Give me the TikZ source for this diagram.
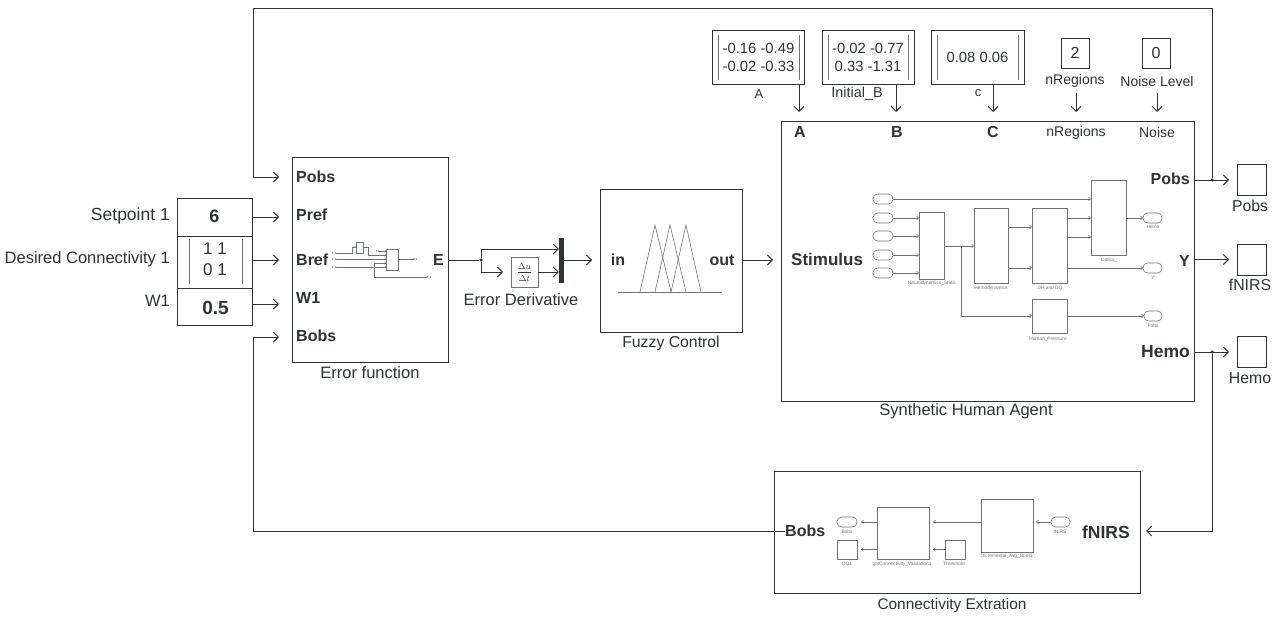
\documentclass[tikz,border=0pt]{standalone}
\usepackage{fontspec}
\setmainfont{Liberation Sans}
\usetikzlibrary{arrows.meta}
\definecolor{ink}{HTML}{2E3335}
\definecolor{soft}{HTML}{6E7375}
\newcommand{\BX}[6][]{%
  \pgfmathsetmacro{\cxx}{(#3+#5)/2}\pgfmathsetmacro{\cyy}{(#4+#6)/2}%
  \pgfmathsetmacro{\wdd}{#5-#3}\pgfmathsetmacro{\htt}{#6-#4}%
  \node[boxn,minimum width=\wdd pt,minimum height=\htt pt,#1] (#2) at (\cxx,\cyy) {};}
\tikzset{
  boxn/.style={draw=ink,line width=1pt,inner sep=0pt,outer sep=0pt,rectangle},
  thin box/.style={draw=soft,line width=.6pt},
  pill/.style={thin box,rounded corners=4.5pt},
  tinypill/.style={draw=soft,line width=.35pt,rounded corners=1pt},
  arr/.style={draw=ink,line width=1pt,-{Straight Barb[length=5pt,width=10pt,line width=.9pt]}},
  line/.style={draw=ink,line width=1pt},
  sarr/.style={draw=soft,line width=.55pt,-{Straight Barb[length=2pt,width=3.5pt,line width=.5pt]}},
  sline/.style={draw=soft,line width=.55pt},
  tarr/.style={draw=soft,line width=.35pt,-{Straight Barb[length=1.2pt,width=2pt,line width=.3pt]}},
  lab/.style={font=\fontsize{16.5}{18}\selectfont,text=ink,inner sep=0pt},
  small lab/.style={font=\fontsize{14}{16}\selectfont,text=ink,inner sep=0pt},
  port/.style={font=\fontsize{16}{18}\bfseries\selectfont,text=ink,inner sep=0pt},
  val/.style={font=\fontsize{14.8}{18}\selectfont,text=ink,inner sep=0pt,align=center},
  mini/.style={font=\fontsize{4.8}{5}\selectfont,text=soft,inner sep=0pt},
  bar/.style={draw=soft,line width=.8pt},
  dot/.style={circle,fill=ink,inner sep=0pt,minimum size=3.5pt},
  tri/.style={draw=soft,line width=.6pt},
}
\begin{document}
\begin{tikzpicture}[x=1pt,y=-1pt]
\useasboundingbox (0,0) rectangle (1278,621);
\fill[white] (0,0) rectangle (1278,621);

% input stack
\BX{sp}{177}{198}{252}{236}
\BX{dc}{177}{236}{252}{288}
\BX{wb}{177}{288}{252}{325}
\node[port,font=\fontsize{18}{20}\bfseries\selectfont] (spv) at (214.5,216) {6};
\node[port,font=\fontsize{19}{20}\bfseries\selectfont] (wv) at (215.5,307.5) {0.5};
\node[val,font=\fontsize{17}{21}\selectfont] (dcv) at (215,259.5) {1 1\\0 1};
\draw[bar] (189,239) -- (189,284) (242,239) -- (242,284);
\node[lab,anchor=east,font=\fontsize{17.5}{19}\selectfont] (l1) at (170,216) {Setpoint 1};
\node[lab,anchor=east] (l2) at (170,259) {Desired Connectivity 1};
\node[lab,anchor=east] (l3) at (170,301) {W1};

% error function
\BX{err}{292}{157}{448}{362}
\node[lab] (errl) at (370,373) {Error function};
\node[port,anchor=west] (pobsi) at (296,177) {Pobs};
\node[port,anchor=west] (prefi) at (296,215) {Pref};
\node[port,anchor=west] (brefi) at (296,260) {Bref};
\node[port,anchor=west] (w1i) at (296,298) {W1};
\node[port,anchor=west] (bobsi) at (296,336) {Bobs};
\node[port,anchor=east] (eo) at (444,259.5) {E};

% inside error function
\BX[tinypill]{e1}{332}{252}{336}{254}
\BX[tinypill]{e2}{332}{258}{336}{260}
\BX[tinypill]{e3}{332}{266}{336}{268}
\BX[thin box]{e4}{356}{242}{363}{253}
\BX[thin box]{e5}{386}{249}{398}{270}
\BX[tinypill]{e6}{376}{250}{379}{252}
\BX[tinypill]{e7}{414}{258}{417}{260}
\BX[tinypill]{e8}{427}{276}{431}{278}
\coordinate (e9) at (374,263);
\draw[tarr] (e1) -- (352,253) -- (352,247) -- (e4.west|-0,247);
\draw[tarr] (e4.east|-0,247) -- (368,247) -- (368,255) -- (e5.west|-0,255);
\draw[tarr] (e6) -- (e6-|e5.west);
\draw[tarr] (e2) -- (e2-|e5.west);
\draw[tarr] (e3) -- (e3-|e5.west);
\draw[tarr] (e9) -- (e9-|e5.west);
\draw[tarr] (e5.east|-e7) -- (e7);
\draw[sline,line width=.35pt] (e9) -- (e9|-e8) -- (e8);

% error derivative
\BX[thin box]{der}{511}{257}{538}{287}
\node[inner sep=0pt,font=\fontsize{9.5}{10}\selectfont,text=ink] (derv) at (524.5,272) {$\displaystyle\frac{\Delta u}{\Delta t}$};
\node[fill=ink,inner sep=0pt,minimum width=5pt,minimum height=45pt] (mux) at (561.5,260.5) {};
\node[dot] (j1) at (481,260) {};
\node[lab] (derl) at (521,299.5) {Error Derivative};
\draw[line] (err.east|-j1) -- (j1);
\draw[arr] (j1) -- (481,249) -- (mux.west|-0,249);
\draw[arr] (j1) -- (481,272) -- ([xshift=-8pt]der.west|-0,272);
\draw[arr] (der.east|-0,272) -- (mux.west|-0,272);

% fuzzy control
\BX{fuz}{600}{189}{742}{332}
\node[lab,font=\fontsize{15.8}{18}\selectfont] (fuzl) at (671,343) {Fuzzy Control};
\node[port] (fin) at (618,260) {in};
\node[port] (fout) at (722,260) {out};
\coordinate (f0) at (618,292); \coordinate (f1) at (722,292);
\draw[tri] (f0) -- (f1);
\draw[tri] (640,292) -- (655,225) -- (671,292);
\draw[tri] (655,292) -- (670,225) -- (686,292);
\draw[tri] (671,292) -- (686,225) -- (701,292);
\draw[arr] (mux.east|-fin) -- ([xshift=-8pt]fuz.west|-fin);

% synthetic human agent
\BX{sha}{781}{121}{1194}{401}
\node[lab] (shal) at (966,411) {Synthetic Human Agent};
\node[port] (pa) at (800,132) {A};
\node[port] (pb) at (897,132) {B};
\node[port] (pc) at (993,132) {C};
\node[small lab] (pn) at (1076,133) {nRegions};
\node[small lab] (pno) at (1157,132) {Noise};
\node[port,anchor=west,font=\fontsize{17}{18}\bfseries\selectfont] (stim) at (791,259) {Stimulus};
\node[port,anchor=east] (opobs) at (1190,179) {Pobs};
\node[port,anchor=east] (oy) at (1190,261) {Y};
\node[port,anchor=east,font=\fontsize{17.5}{18}\bfseries\selectfont] (ohemo) at (1190,352) {Hemo};
\draw[arr] ([xshift=0pt]fuz.east|-fin) -- ([xshift=-8pt]sha.west|-fin);

% parameter blocks
\BX{ma}{712}{30}{804}{84}
\BX{mb}{822}{30}{914}{84}
\BX{mc}{931}{30}{1024}{84}
\BX{mn}{1061}{38}{1089}{68}
\BX{mz}{1142}{38}{1170}{68}
\node[val] (mav) at (758.5,57) {-0.16 -0.49\\-0.02 -0.33};
\node[val] (mbv) at (868,57) {-0.02 -0.77\\0.33 -1.31};
\node[val] (mcv) at (977.5,57.5) {0.08 0.06};
\node[val,font=\fontsize{16}{18}\selectfont] (mnv) at (1075,53) {2};
\node[val,font=\fontsize{16}{18}\selectfont] (mzv) at (1156,53) {0};
\draw[bar] (718,35) -- (718,80) (799,35) -- (799,80);
\draw[bar] (828,35) -- (828,80) (908,35) -- (908,80);
\draw[bar] (937,35) -- (937,80) (1018,35) -- (1018,80);
\node[font=\fontsize{13}{14}\selectfont,text=ink,inner sep=0pt] (mal) at (759,94) {A};
\node[small lab,font=\fontsize{14.4}{15}\selectfont] (mbl) at (857,93.5) {Initial\_B};
\node[font=\fontsize{13}{14}\selectfont,text=ink,inner sep=0pt] (mcl) at (978,93) {c};
\node[small lab] (mnl) at (1075,81) {nRegions};
\node[small lab] (mzl) at (1157,81) {Noise Level};
\coordinate (a0) at (799,84); \coordinate (a1) at (799,112);
\coordinate (b0) at (896,84); \coordinate (b1) at (896,112);
\coordinate (c0) at (993,84); \coordinate (c1) at (993,112);
\coordinate (n0) at (1076,93); \coordinate (n1) at (1076,112);
\coordinate (z0) at (1157,93); \coordinate (z1) at (1157,112);
\draw[arr] (a0) -- (a1);
\draw[arr] (b0) -- (b1);
\draw[arr] (c0) -- (c1);
\draw[arr] (n0) -- (n1);
\draw[arr] (z0) -- (z1);

% inside human agent
\BX[pill]{s1}{873}{194}{893}{204}
\BX[pill]{s2}{873}{213}{893}{223}
\BX[pill]{s3}{873}{231}{893}{241}
\BX[pill]{s4}{873}{250}{893}{260}
\BX[pill]{s5}{873}{268}{893}{278}
\BX[thin box]{neu}{919}{212}{944}{279}
\BX[thin box]{hem}{974}{208}{1008}{283}
\BX[thin box]{dh}{1032}{208}{1067}{283}
\BX[thin box]{opt}{1091}{180}{1126}{255}
\BX[thin box]{hup}{1032}{299}{1067}{333}
\BX[pill]{o1}{1143}{213}{1162}{223}
\BX[pill]{o2}{1143}{263}{1162}{273}
\BX[pill]{o3}{1144}{311}{1162}{321}
\node[mini] (neul) at (932,283.5) {Neurodynamics\_Static};
\node[mini] (heml) at (991,288) {Hemodynamics};
\node[mini] (dhl) at (1050,288) {DH and DQ};
\node[mini] (optl) at (1109,260) {Optics\_};
\node[mini] (hupl) at (1048,339) {Human\_Pressure};
\node[mini] (o1l) at (1153,227) {Hemo};
\node[mini] (o2l) at (1153,277.5) {Y};
\node[mini] (o3l) at (1153,326) {Pobs};
\coordinate (nj) at (961,246);
\coordinate (y218) at (0,218); \coordinate (y227) at (0,227);
\coordinate (y237) at (0,237); \coordinate (y268) at (0,268);
\draw[sarr] (s1) -- (s1-|opt.west);
\draw[sarr] (s2) -- (s2-|neu.west);
\draw[sarr] (s3) -- (s3-|neu.west);
\draw[sarr] (s4) -- (s4-|neu.west);
\draw[sarr] (s5) -- (s5-|neu.west);
\draw[sarr] (neu.east|-nj) -- (nj-|hem.west);
\draw[sarr] (nj) -- (nj|-hup) -- (hup.west);
\draw[sarr] (hem.east|-y227) -- (dh.west|-y227);
\draw[sarr] (hem.east|-y268) -- (dh.west|-y268);
\draw[sarr] (dh.east|-y218) -- (opt.west|-y218);
\draw[sarr] (dh.east|-y237) -- (opt.west|-y237);
\draw[sarr] (dh.east|-o2) -- (o2);
\draw[sarr] (opt.east|-o1) -- (o1);
\draw[sarr] (hup.east|-o3) -- (o3);

% outputs
\BX{tp}{1237}{164}{1266}{195}
\BX{tf}{1237}{244}{1266}{275}
\BX{th}{1237}{336}{1266}{367}
\node[lab,font=\fontsize{15.8}{18}\selectfont] (tpl) at (1250,206) {Pobs};
\node[lab,font=\fontsize{15.8}{18}\selectfont] (tfl) at (1250,285) {fNIRS};
\node[lab,font=\fontsize{15.8}{18}\selectfont] (thl) at (1250,378) {Hemo};
\node[dot] (jp) at (1212,180) {};
\node[dot] (jh) at (1212,352) {};
\draw[arr] (sha.east|-jp) -- ([xshift=-8pt]tp.west|-jp);
\draw[arr] (sha.east|-tf) -- ([xshift=-8pt]tf.west);
\draw[arr] (sha.east|-jh) -- ([xshift=-8pt]th.west|-jh);

% connectivity extraction
\BX{con}{774}{471}{1140}{593}
\node[lab,font=\fontsize{15.4}{18}\selectfont] (conl) at (952,606) {Connectivity Extration};
\node[port,anchor=west] (cbobs) at (785,531) {Bobs};
\node[port,anchor=east,font=\fontsize{17.5}{18}\bfseries\selectfont] (cfn) at (1130,532) {fNIRS};
\BX[pill]{c1}{837}{517}{857}{527}
\BX[thin box]{c2}{837}{540}{857}{559}
\BX[thin box]{c3}{877}{507}{929}{559}
\BX[thin box]{c4}{945}{540}{965}{559}
\BX[thin box]{c5}{981}{499}{1033}{552}
\BX[pill]{c6}{1051}{517}{1070}{527}
\node[mini] (c1l) at (847,532) {Bobs};
\node[mini] (c2l) at (847,564) {DQ1};
\node[mini] (c3l) at (902,564) {gotConnectivity\_Validation1};
\node[mini] (c4l) at (954,564) {Threshold};
\node[mini] (c5l) at (1007,556) {Incremental\_Avg\_Boot1};
\node[mini] (c6l) at (1060,532) {fNIRS};
\draw[sarr,shorten >=3pt] (c6) -- (c6-|c5.east);
\draw[sarr,shorten >=4pt] (c5.west|-c1) -- (c3.east|-c1);
\draw[sarr,shorten >=4pt] (c4.west|-c2) -- (c3.east|-c2);
\draw[sarr,shorten >=4pt] (c3.west|-c1) -- (c1.east);
\draw[sarr,shorten >=4pt] (c3.west|-c2) -- (c2.east);

% feedback
\coordinate (tr) at (1212,8);
\coordinate (tl) at (253,8);
\coordinate (bl) at (253,531);
\draw[arr] (jp) -- (tr) -- (tl) -- (tl|-pobsi) -- ([xshift=-13pt]err.west|-pobsi);
\draw[arr] (sp.east) -- ([xshift=-13pt]err.west|-sp);
\draw[arr] (dc.east|-brefi) -- ([xshift=-13pt]err.west|-brefi);
\draw[arr] (wb.east|-0,304) -- ([xshift=-13pt]err.west|-0,304);
\draw[arr] (cbobs.west|-bl) -- (bl) -- (bl|-0,337) -- ([xshift=-13pt]err.west|-0,337);
\draw[arr] (jh) -- (jh|-bl) -- ([xshift=6pt]con.east|-bl);
\end{tikzpicture}
\end{document}
